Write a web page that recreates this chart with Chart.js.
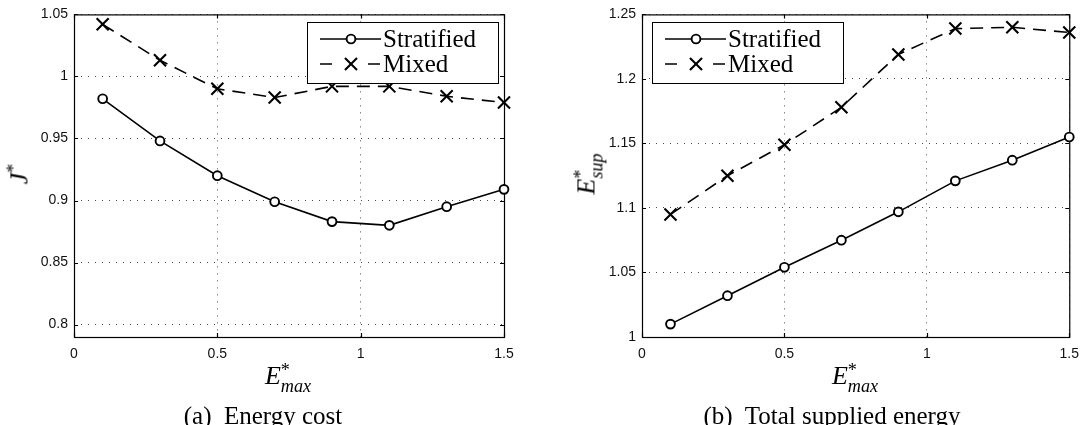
<!DOCTYPE html>
<html>
<head>
<meta charset="utf-8">
<script src="https://cdn.jsdelivr.net/npm/chart.js@4.4.0/dist/chart.umd.min.js"></script>
<style>
  body { margin: 0; width: 1088px; height: 425px; position: relative; overflow: hidden; background: #fff; font-family: 'Liberation Serif', serif; color: #000; }
  canvas { position: absolute; top: 0; }
  .lbl { position: absolute; transform: translate(-50%, -50%); white-space: nowrap; line-height: 1; }
  .math { font-size: 26px; }
  .math i { font-style: italic; }
  .ss { display: inline-block; vertical-align: -0.42em; font-size: 0.7em; line-height: 0.85; text-align: left; }
  .ss span { display: block; }
  .rot { transform: translate(-50%, -50%) rotate(-90deg); }
  .cap { font-size: 25px; }
</style>
</head>
<body>
<canvas id="costChart" width="540" height="395" style="left:0px"></canvas>
<canvas id="supChart" width="540" height="395" style="left:548px"></canvas>

<div class="lbl math rot" style="left:22px; top:174px"><i>J</i><span class="ss"><span>*</span><span>&nbsp;</span></span></div>
<div class="lbl math rot" style="left:589px; top:174px"><i>E</i><span class="ss"><span>*</span><span><i>sup</i></span></span></div>
<div class="lbl math" style="left:288px; top:379px"><i>E</i><span class="ss"><span>*</span><span><i>max</i></span></span></div>
<div class="lbl math" style="left:855px; top:379px"><i>E</i><span class="ss"><span>*</span><span><i>max</i></span></span></div>
<div class="lbl cap" style="left:263px; top:415px">(a)&nbsp; Energy cost</div>
<div class="lbl cap" style="left:832px; top:415px">(b)&nbsp; Total supplied energy</div>

<script>
// E*max values on the x axis
var xValues = [0.1, 0.3, 0.5, 0.7, 0.9, 1.1, 1.3, 1.5];
var xTicks = [0, 0.5, 1, 1.5];

// (a) energy cost J*
var costStratified = [0.982, 0.948, 0.920, 0.899, 0.883, 0.880, 0.895, 0.909];
var costMixed = [1.042, 1.013, 0.990, 0.983, 0.992, 0.992, 0.984, 0.979];
var costTicks = [0.8, 0.85, 0.9, 0.95, 1, 1.05];

// (b) total supplied energy E*sup
var supStratified = [1.010, 1.032, 1.054, 1.075, 1.097, 1.121, 1.137, 1.155];
var supMixed = [1.095, 1.125, 1.149, 1.178, 1.219, 1.239, 1.240, 1.236];
var supTicks = [1, 1.05, 1.1, 1.15, 1.2, 1.25];

var seriesNames = ['Stratified', 'Mixed'];

function toPoints(ys) {
  return xValues.map(function(x, i) { return { x: x, y: ys[i] }; });
}

function fmt(v) {
  return String(parseFloat(Number(v).toFixed(2)));
}

// box round the plot with small inner ticks on all four sides (matlab style)
var frame = {
  id: 'frame',
  beforeDatasetsDraw: function(chart) {
    var ctx = chart.ctx;
    var a = chart.chartArea;
    var tl = 4;
    ctx.save();
    ctx.strokeStyle = '#000';
    ctx.lineWidth = 1.2;
    ctx.setLineDash([]);
    ctx.strokeRect(a.left + 0.5, a.top + 0.5, a.right - a.left, a.bottom - a.top);
    ctx.beginPath();
    chart.scales.x.ticks.forEach(function(t) {
      var px = Math.round(chart.scales.x.getPixelForValue(t.value)) + 0.5;
      ctx.moveTo(px, a.bottom); ctx.lineTo(px, a.bottom - tl);
      ctx.moveTo(px, a.top); ctx.lineTo(px, a.top + tl);
    });
    chart.scales.y.ticks.forEach(function(t) {
      var py = Math.round(chart.scales.y.getPixelForValue(t.value)) + 0.5;
      ctx.moveTo(a.left, py); ctx.lineTo(a.left + tl, py);
      ctx.moveTo(a.right, py); ctx.lineTo(a.right - tl, py);
    });
    ctx.stroke();
    ctx.restore();
  }
};

// legend box with line sample + marker, drawn over the data
var boxLegend = {
  id: 'boxLegend',
  afterDatasetsDraw: function(chart, args, opts) {
    var ctx = chart.ctx;
    var L = opts.left, T = opts.top, W = 191, H = 61;
    ctx.save();
    ctx.fillStyle = '#fff';
    ctx.fillRect(L, T, W, H);
    ctx.strokeStyle = '#000';
    ctx.lineWidth = 1;
    ctx.strokeRect(L + 0.5, T + 0.5, W, H);
    chart.data.datasets.forEach(function(ds, i) {
      var y = T + 17 + i * 25;
      var mx = L + 44;
      ctx.lineWidth = ds.borderWidth;
      ctx.setLineDash(ds.borderDash ? [12, 36] : []);
      ctx.beginPath();
      ctx.moveTo(L + 13, y);
      ctx.lineTo(L + 74, y);
      ctx.stroke();
      ctx.setLineDash([]);
      ctx.lineWidth = ds.pointBorderWidth;
      ctx.beginPath();
      if (ds.pointStyle == 'circle') {
        ctx.fillStyle = '#fff';
        ctx.arc(mx, y, ds.pointRadius, 0, Math.PI * 2);
        ctx.fill();
      } else {
        var r = ds.pointRadius * Math.SQRT1_2;
        ctx.moveTo(mx - r, y - r); ctx.lineTo(mx + r, y + r);
        ctx.moveTo(mx - r, y + r); ctx.lineTo(mx + r, y - r);
      }
      ctx.stroke();
      ctx.fillStyle = '#000';
      ctx.font = '25px "Liberation Serif"';
      ctx.textBaseline = 'middle';
      ctx.fillText(ds.label, L + 76, y + 1);
    });
    ctx.restore();
  }
};

function makeChart(id, stratified, mixed, yMin, yMax, yTicks, yWidth, padRight, legendLeft) {
  var ctx = document.getElementById(id).getContext('2d');
  return new Chart(ctx, {
    type: 'line',
    data: {
      datasets: [
        {
          label: seriesNames[0],
          data: toPoints(stratified),
          borderColor: '#000',
          borderWidth: 1.6,
          pointStyle: 'circle',
          pointRadius: 4.4,
          pointBorderWidth: 1.9,
          pointBorderColor: '#000',
          pointBackgroundColor: '#fff',
          clip: false,
        },
        {
          label: seriesNames[1],
          data: toPoints(mixed),
          borderColor: '#000',
          borderWidth: 1.6,
          borderDash: [13, 8],
          pointStyle: 'crossRot',
          pointRadius: 8.5,
          pointBorderWidth: 2.1,
          pointBorderColor: '#000',
          clip: false,
        },
      ],
    },
    options: {
      responsive: false,
      animation: false,
      layout: { padding: { top: 11, right: padRight, bottom: 0, left: 0 } },
      plugins: {
        legend: { display: false },
        tooltip: { enabled: false },
        boxLegend: { left: legendLeft, top: 22 },
      },
      scales: {
        x: {
          type: 'linear',
          min: 0,
          max: 1.5,
          afterBuildTicks: function(s) { s.ticks = xTicks.map(function(v) { return { value: v }; }); },
          afterFit: function(s) { s.height = 58; },
          ticks: { callback: fmt, color: '#111', padding: 9, maxRotation: 0, font: { family: 'Liberation Sans', size: 14 } },
          grid: { color: 'rgba(0,0,0,0.7)', lineWidth: 1, drawTicks: false },
          border: { display: false, dash: [1, 6] },
        },
        y: {
          min: yMin,
          max: yMax,
          afterBuildTicks: function(s) { s.ticks = yTicks.map(function(v) { return { value: v }; }); },
          afterFit: function(s) { s.width = yWidth; },
          ticks: { callback: fmt, color: '#111', padding: 6, font: { family: 'Liberation Sans', size: 14 } },
          grid: { color: 'rgba(0,0,0,0.7)', lineWidth: 1, drawTicks: false },
          border: { display: false, dash: [1, 6] },
        },
      },
    },
    plugins: [frame, boxLegend],
  });
}

window.onload = function() {
  makeChart('costChart', costStratified, costMixed, 0.79, 1.05, costTicks, 74, 36, 307);
  makeChart('supChart', supStratified, supMixed, 1, 1.25, supTicks, 94, 15, 104);
};
</script>
</body>
</html>
